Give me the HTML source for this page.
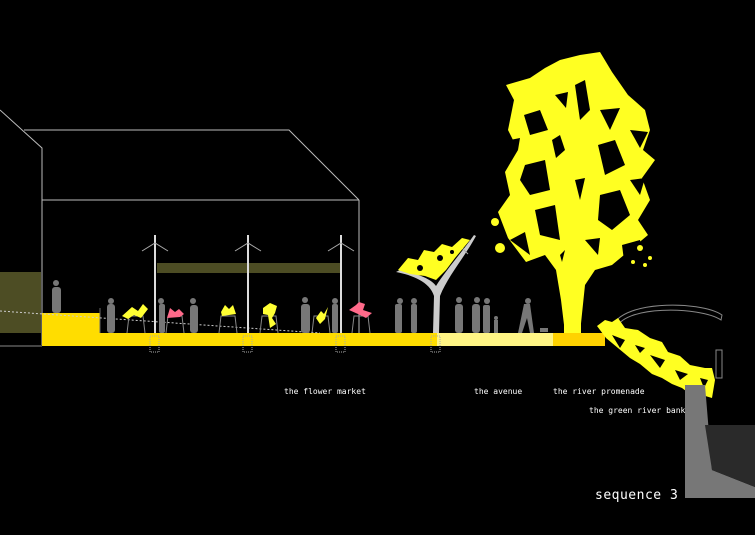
<!DOCTYPE html>
<html><head><style>
html,body{margin:0;padding:0;background:#000;width:755px;height:535px;overflow:hidden}
svg{display:block}
text{font-family:"DejaVu Sans Mono","Liberation Mono",monospace;fill:#fff}
</style></head><body>
<svg width="755" height="535" viewBox="0 0 755 535" xmlns="http://www.w3.org/2000/svg">
<rect width="755" height="535" fill="#000"/>
<g stroke="#bbb" stroke-width="1" fill="none">
<polyline points="0,110 42,148 42,345"/>
<polyline points="24,130 289,130 359,200"/>
<line x1="42" y1="200" x2="359" y2="200"/>
<line x1="359" y1="200" x2="359" y2="333"/>
<line x1="0" y1="346" x2="42" y2="346" stroke="#888"/>
</g>
<rect x="0" y="272" width="41" height="61" fill="#4d4d24"/>
<rect x="157" y="263" width="184" height="10" fill="#4d4d24"/>
<rect x="42" y="313" width="58" height="33" fill="#ffdd00"/>
<rect x="100" y="333" width="337" height="13" fill="#ffdd00"/>
<rect x="437" y="333" width="116" height="13" fill="#fff585"/>
<rect x="553" y="333" width="52" height="13" fill="#ffd200"/>
<line x1="100" y1="308" x2="100" y2="333" stroke="#666"/>
<line x1="0" y1="311" x2="320" y2="333" stroke="#ccc" stroke-dasharray="2,2"/>
<g stroke="#aaa" stroke-dasharray="1,1" fill="none">
<rect x="150" y="336" width="9" height="16"/><rect x="243" y="336" width="9" height="16"/><rect x="336" y="336" width="9" height="16"/><rect x="431" y="336" width="9" height="16"/>
</g>
<g stroke="#ddd" stroke-width="2">
<line x1="155" y1="235" x2="155" y2="333"/><line x1="248" y1="235" x2="248" y2="333"/><line x1="341" y1="235" x2="341" y2="333"/>
</g>
<g stroke="#aaa" fill="none">
<polyline points="142,251 155,243 168,251"/><polyline points="235,251 248,243 261,251"/><polyline points="328,251 341,243 354,251"/>
</g>
<g fill="#777">
<rect x="52" y="287" width="9" height="26" rx="3"/><circle cx="56" cy="283" r="3"/>
<rect x="107" y="304" width="8" height="29" rx="3"/><circle cx="111" cy="301" r="3"/>
<rect x="159" y="304" width="6" height="29" rx="2"/><circle cx="161" cy="301" r="3"/>
<rect x="190" y="305" width="8" height="28" rx="3"/><circle cx="193" cy="301" r="3"/>
<rect x="301" y="304" width="9" height="29" rx="3"/><circle cx="305" cy="300" r="3"/>
<rect x="332" y="304" width="6" height="29" rx="2"/><circle cx="335" cy="301" r="3"/>
<rect x="395" y="304" width="7" height="29" rx="2"/><circle cx="400" cy="301" r="3"/>
<rect x="411" y="304" width="6" height="29" rx="2"/><circle cx="414" cy="301" r="3"/>
<rect x="455" y="304" width="8" height="29" rx="3"/><circle cx="459" cy="300" r="3"/>
<rect x="472" y="304" width="8" height="29" rx="3"/><circle cx="477" cy="300" r="3"/>
<rect x="483" y="305" width="7" height="28" rx="2"/><circle cx="487" cy="301" r="3"/>
<rect x="494" y="320" width="4" height="13"/><circle cx="496" cy="318" r="2"/>
<polygon points="524,304 530,304 534,333 530,333 527,318 522,333 518,333"/><circle cx="528" cy="301" r="3"/>
<rect x="540" y="328" width="8" height="4"/>
</g>
<g stroke="#888" fill="none">
<polyline points="127,333 129,316 143,316 145,333"/><polyline points="166,333 168,316 182,316 184,333"/>
<polyline points="219,333 221,316 235,316 237,333"/><polyline points="260,333 262,316 276,316 278,333"/>
<polyline points="312,333 314,316 328,316 330,333"/><polyline points="352,333 354,316 368,316 370,333"/>
</g>
<g fill="#ffff33">
<polygon points="122,316 132,307 138,311 143,304 148,309 141,318 134,315 128,319"/>
<polygon points="221,312 225,305 229,309 233,305 236,314 222,316"/>
<polygon points="263,308 270,303 277,306 275,313 272,318 276,324 270,328 268,315 263,314"/>
<polygon points="316,318 321,311 324,314 328,307 325,319 320,324"/>
</g>
<g fill="#ff6a8a">
<polygon points="167,318 170,308 175,312 179,309 184,314 180,317"/>
<polygon points="349,310 356,305 359,302 365,304 363,310 372,313 366,318 358,314"/>
</g>
<path d="M433,333 L434,296 C430,282 412,275 396,272 L400,270 C420,274 432,280 436,286 C446,270 462,252 474,235 L476,236 C464,258 448,276 440,296 L439,333 Z" fill="#ccc"/>
<line x1="460" y1="246" x2="468" y2="254" stroke="#aaa"/>
<polygon points="398,270 408,258 418,260 424,250 434,252 442,244 452,247 462,238 470,240 455,258 446,270 436,280 425,276 410,274" fill="#ffff22"/>
<g fill="#000"><circle cx="420" cy="268" r="3"/><circle cx="440" cy="258" r="3"/><circle cx="452" cy="252" r="2"/></g>
<!-- tree -->
<g fill="#ffff22">
<rect x="564" y="230" width="17" height="103"/>
<polygon points="565,333 561,300 556,270 545,255 526,262 508,238 498,212 510,195 505,172 518,150 508,130 514,100 506,85 530,78 545,68 560,60 580,55 600,52 612,72 628,95 645,110 650,130 643,150 655,160 642,178 650,200 638,220 648,235 630,250 612,265 595,270 585,285 580,333"/>
<circle cx="500" cy="248" r="5"/><circle cx="495" cy="222" r="4"/>
</g>
<g fill="#000">
<polygon points="524,115 540,110 548,130 530,135"/>
<polygon points="575,85 585,80 590,110 580,120"/>
<polygon points="600,110 620,108 610,130"/>
<polygon points="525,165 545,160 550,190 530,195 520,180"/>
<polygon points="598,145 615,140 625,165 605,175"/>
<polygon points="535,210 555,205 560,240 540,235"/>
<polygon points="600,195 620,190 630,215 612,230 598,220"/>
<polygon points="622,245 640,240 645,265 625,268"/>
<polygon points="510,240 525,232 530,255"/>
<polygon points="555,95 568,92 566,108"/>
<polygon points="630,130 648,132 640,148"/>
<polygon points="510,140 520,138 518,150"/>
<polygon points="552,140 560,135 565,150 556,158"/>
<polygon points="575,180 585,178 580,200"/>
<polygon points="630,180 645,178 640,195"/>
<polygon points="505,70 515,72 512,82"/>
<polygon points="560,255 565,250 562,262"/>
<polygon points="585,240 600,238 598,255"/>
</g>
<g fill="#ffff22"><circle cx="640" cy="248" r="3"/><circle cx="650" cy="258" r="2"/><circle cx="633" cy="262" r="2"/><circle cx="645" cy="265" r="2"/></g>
<!-- river bank -->
<path d="M612,330 C615,300 700,300 722,315 L721,320 C700,306 620,305 616,330 Z" fill="none" stroke="#888"/>
<rect x="716" y="350" width="6" height="28" fill="none" stroke="#888"/>
<polygon points="597,326 605,320 612,322 618,318 625,328 638,330 650,338 662,342 668,352 680,356 690,365 705,368 712,368 715,380 712,398 702,395 690,394 682,388 672,384 662,378 652,374 640,364 630,358 618,348 606,338" fill="#ffff22"/>
<g fill="#000">
<polygon points="612,335 625,340 620,348"/>
<polygon points="650,355 665,360 660,368"/>
<polygon points="635,345 645,348 640,353"/>
<polygon points="675,370 688,374 680,380"/>
<polygon points="700,378 708,380 704,388"/>
</g>
<polygon points="685,385 705,385 712,470 755,487 755,498 685,498" fill="#777"/>
<polygon points="705,425 755,425 755,487 712,470" fill="#2a2a2a"/>
<g font-size="8">
<text x="284" y="394">the flower market</text>
<text x="474" y="394">the avenue</text>
<text x="553" y="394">the river promenade</text>
<text x="589" y="413">the green river bank</text>
</g>
<text x="595" y="499" font-size="13" letter-spacing="0.5">sequence 3</text>
</svg>
</body></html>
